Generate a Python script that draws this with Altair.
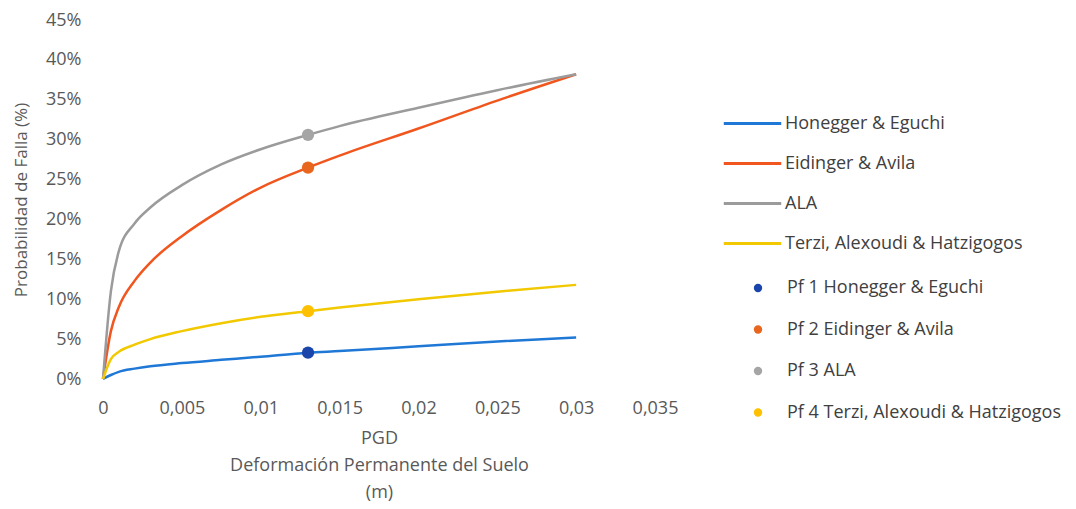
import altair as alt
import pandas as pd

# ---- data ----
pgd = [0, 0.0005, 0.001, 0.002, 0.003, 0.005, 0.0075, 0.01, 0.013, 0.015, 0.02, 0.025, 0.03]
honegger = [0, 0.5, 0.9, 1.3, 1.6, 2.0, 2.4, 2.8, 3.3, 3.5, 4.1, 4.7, 5.2]
eidinger = [0, 6.0, 9.0, 12.3, 14.6, 17.9, 21.2, 24.0, 26.5, 28.0, 31.4, 34.9, 38.2]
ala = [0, 11.0, 16.0, 19.5, 21.5, 24.3, 26.9, 28.8, 30.6, 31.7, 34.0, 36.2, 38.2]
terzi = [0, 2.5, 3.4, 4.3, 5.0, 6.0, 7.0, 7.8, 8.5, 8.95, 10.0, 10.95, 11.8]

line_names = ["Honegger & Eguchi", "Eidinger & Avila", "ALA", "Terzi, Alexoudi & Hatzigogos"]
line_colors = ["#1F78D6", "#F0561E", "#9B9B9B", "#F2C900"]

pf_names = ["Pf 1 Honegger & Eguchi", "Pf 2 Eidinger & Avila", "Pf 3 ALA", "Pf 4 Terzi, Alexoudi & Hatzigogos"]
pf_x = [0.013, 0.013, 0.013, 0.013]
pf_y = [3.3, 26.5, 30.6, 8.5]
pf_colors = ["#1A45AA", "#E8661E", "#A5A5A5", "#FFC000"]

x_ticks = [0, 0.005, 0.01, 0.015, 0.02, 0.025, 0.03, 0.035]
y_ticks = [0, 5, 10, 15, 20, 25, 30, 35, 40, 45]

rows = []
for name, ys in zip(line_names, [honegger, eidinger, ala, terzi]):
    for xv, yv in zip(pgd, ys):
        rows.append({"serie": name, "pgd": xv, "pf": yv})
lines_df = pd.DataFrame(rows)
pts_df = pd.DataFrame({"serie": pf_names, "pgd": pf_x, "pf": pf_y})

FONT = "Open Sans"
GREY = "#595959"
FS = 18

x_enc = alt.X("pgd:Q",
              scale=alt.Scale(domain=[0, 0.035], nice=False),
              axis=alt.Axis(values=x_ticks,
                            labelExpr="replace(format(datum.value, '.3~f'), '.', ',')",
                            labelOverlap=False, labelFlush=False,
                            title=["PGD", "Deformación Permanente del Suelo", "(m)"],
                            grid=False, domain=False, ticks=False,
                            labelPadding=20, titlePadding=12,
                            labelFontSize=FS, labelColor=GREY, labelFont=FONT,
                            titleFontSize=FS, titleFontWeight="normal", titleColor=GREY,
                            titleFont=FONT, titleLineHeight=27))
y_enc = alt.Y("pf:Q",
              scale=alt.Scale(domain=[0, 45], nice=False),
              axis=alt.Axis(values=y_ticks, labelExpr="datum.value + '%'",
                            labelOverlap=False, labelFlush=False,
                            title="Probabilidad de Falla (%)",
                            grid=False, domain=False, ticks=False,
                            labelPadding=22, titlePadding=15,
                            labelFontSize=FS, labelColor=GREY, labelFont=FONT,
                            titleFontSize=17, titleFontWeight="normal", titleColor=GREY,
                            titleFont=FONT))

lines = alt.Chart(lines_df).mark_line(interpolate="monotone", strokeWidth=2.5).encode(
    x=x_enc, y=y_enc,
    color=alt.Color("serie:N",
                    scale=alt.Scale(domain=line_names, range=line_colors),
                    sort=line_names,
                    legend=alt.Legend(title=None, orient="none", legendX=619, legendY=73,
                                      symbolType="stroke", symbolSize=3300,
                                      symbolStrokeWidth=3, labelOffset=2,
                                      rowPadding=-15.7, labelFontSize=FS, labelFont=FONT,
                                      labelColor="#404040", labelLimit=400)),
    strokeWidth=alt.condition(alt.datum.serie == "ALA", alt.value(1.6), alt.value(2.5)),
)

points = alt.Chart(pts_df).mark_point(filled=True, size=150, opacity=1).encode(
    x=x_enc, y=y_enc,
    fill=alt.Fill("serie:N",
                  scale=alt.Scale(domain=pf_names, range=pf_colors),
                  sort=pf_names,
                  legend=alt.Legend(title=None, orient="none", legendX=646, legendY=259,
                                    symbolType="circle", symbolSize=70,
                                    labelOffset=20, rowPadding=23.5,
                                    labelFontSize=FS, labelFont=FONT,
                                    labelColor="#404040", labelLimit=400)),
)

chart = alt.layer(lines, points).properties(
    width=552, height=359,
    autosize=alt.AutoSizeParams(type="none"),
    padding={"left": 95, "top": 12, "right": 412, "bottom": 124},
    background="white",
).configure_view(stroke=None)

chart.save("out.html", embed_options={"renderer": "svg", "actions": False})
